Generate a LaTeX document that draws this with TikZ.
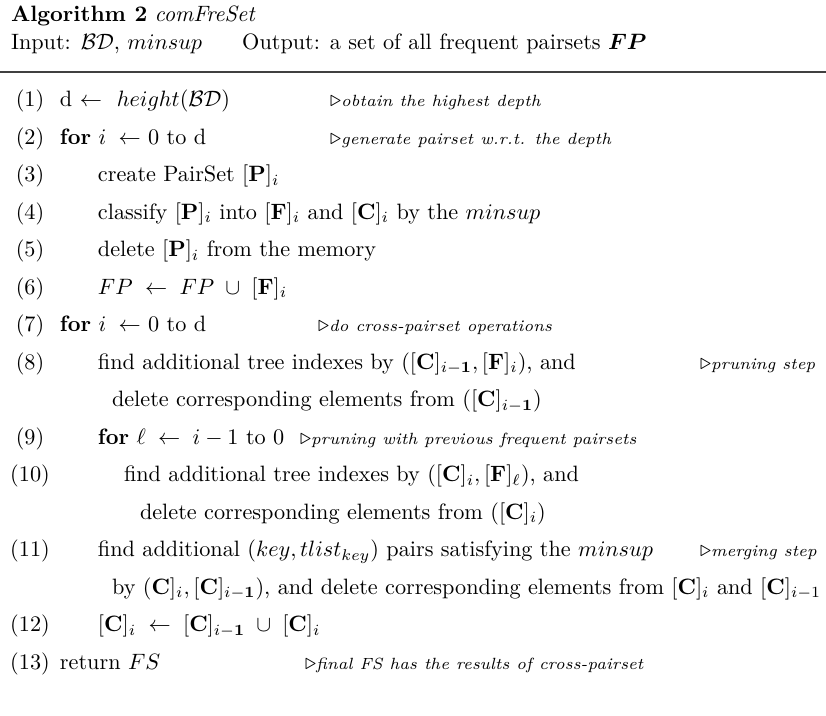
\documentclass[tikz,border=0pt]{standalone}
\usepackage{amsmath,amssymb}
\usetikzlibrary{positioning,calc}
\tikzset{
    every node/.style={inner sep=0pt, outer sep=0pt, font=\normalsize},
    num/.style={anchor=base},
    codeline/.style={anchor=base west},
    remark/.style={anchor=base west, font=\fontsize{7.3}{9}\selectfont\itshape},
    rule/.style={line width=0.6pt, black!75},
}
\newcommand{\Cb}{[\mathbf{C}]}
\newcommand{\Fb}{[\mathbf{F}]}
\newcommand{\Pb}{[\mathbf{P}]}
\newcommand{\tri}{{\fontsize{10}{12}\selectfont$\triangleright$}}

\begin{document}
\begin{tikzpicture}[x=0.45pt, y=-0.45pt]
  \useasboundingbox (0,0) rectangle (826,716);
  % header
  \node[codeline] (alg) at (11,22) {\textbf{Algorithm 2} \textit{comFreSet}};
  \node[codeline] (inp) at (11,50) {Input: $\mathcal{BD}$, $minsup$};
  \node[codeline, right=40 of inp.base east, anchor=base west] (outp) {Output: a set of all frequent pairsets $\boldsymbol{FP}$};
  \coordinate (rl) at (0,72);
  \coordinate (rr) at (826,72);
  \draw[rule] (rl) -- (rr);
  % line numbers
  \node[num] (n1) at (30,107) {(1)};
  \node[num] (n2) at (30,144.5) {(2)};
  \node[num] (n3) at (30,182) {(3)};
  \node[num] (n4) at (30,219.5) {(4)};
  \node[num] (n5) at (30,257) {(5)};
  \node[num] (n6) at (30,294.5) {(6)};
  \node[num] (n7) at (30,332) {(7)};
  \node[num] (n8) at (30,369.5) {(8)};
  \node[num] (n9) at (30,444.5) {(9)};
  \node[num] (n10) at (30,482) {(10)};
  \node[num] (n11) at (30,557) {(11)};
  \node[num] (n12) at (30,632) {(12)};
  \node[num] (n13) at (30,669.5) {(13)};
  % code lines
  \node[codeline] (l1) at (60,107) {d $\leftarrow$\ \ $height(\mathcal{BD})$};
  \node[codeline] (l2) at (60,144.5) {\textbf{for} $i\;\leftarrow$ 0 to d};
  \node[codeline] (l3) at (98,182) {create PairSet $\Pb_i$};
  \node[codeline] (l4) at (98,219.5) {classify $\Pb_i$ into $\Fb_i$ and $\Cb_i$ by the $minsup$};
  \node[codeline] (l5) at (98,257) {delete $\Pb_i$ from the memory};
  \node[codeline] (l6) at (98,294.5) {$FP\;\leftarrow\;FP\;\cup\;\Fb_i$};
  \node[codeline] (l7) at (60,332) {\textbf{for} $i\;\leftarrow$ 0 to d};
  \node[codeline] (l8) at (98,369.5) {find additional tree indexes by $(\Cb_{i-\mathbf{1}},\Fb_i)$, and};
  \node[codeline] (l8b) at (112,407) {delete corresponding elements from $(\Cb_{i-\mathbf{1}})$};
  \node[codeline] (l9) at (98,444.5) {\textbf{for} $\ell\;\leftarrow\;i-1$ to 0};
  \node[codeline] (l10) at (124,482) {find additional tree indexes by $(\Cb_i,\Fb_\ell)$, and};
  \node[codeline] (l10b) at (140,519.5) {delete corresponding elements from $(\Cb_i)$};
  \node[codeline] (l11) at (98,557) {find additional $(key,tlist_{key})$ pairs satisfying the $minsup$};
  \node[codeline] (l11b) at (112,594.5) {by $(\mathbf{C}]_i,\Cb_{i-\mathbf{1}})$, and delete corresponding elements from $\Cb_i$ and $\Cb_{i-1}$};
  \node[codeline] (l12) at (98,632) {$\Cb_i\;\leftarrow\;\Cb_{i-\mathbf{1}}\;\cup\;\Cb_i$};
  \node[codeline] (l13) at (60,669.5) {return $FS$};
  % remarks
  \node[remark] (c1) at (330,107) {\tri obtain the highest depth};
  \node[remark] (c2) at (330,144.5) {\tri generate pairset w.r.t. the depth};
  \node[remark] (c7) at (318,332) {\tri do cross-pairset operations};
  \node[remark] (c8) at (700,369.5) {\tri pruning step};
  \node[remark] (c9) at (300,444.5) {\tri pruning with previous frequent pairsets};
  \node[remark] (c11) at (700,557) {\tri merging step};
  \node[remark] (c13) at (305,669.5) {\tri final FS has the results of cross-pairset};
\end{tikzpicture}
\end{document}
